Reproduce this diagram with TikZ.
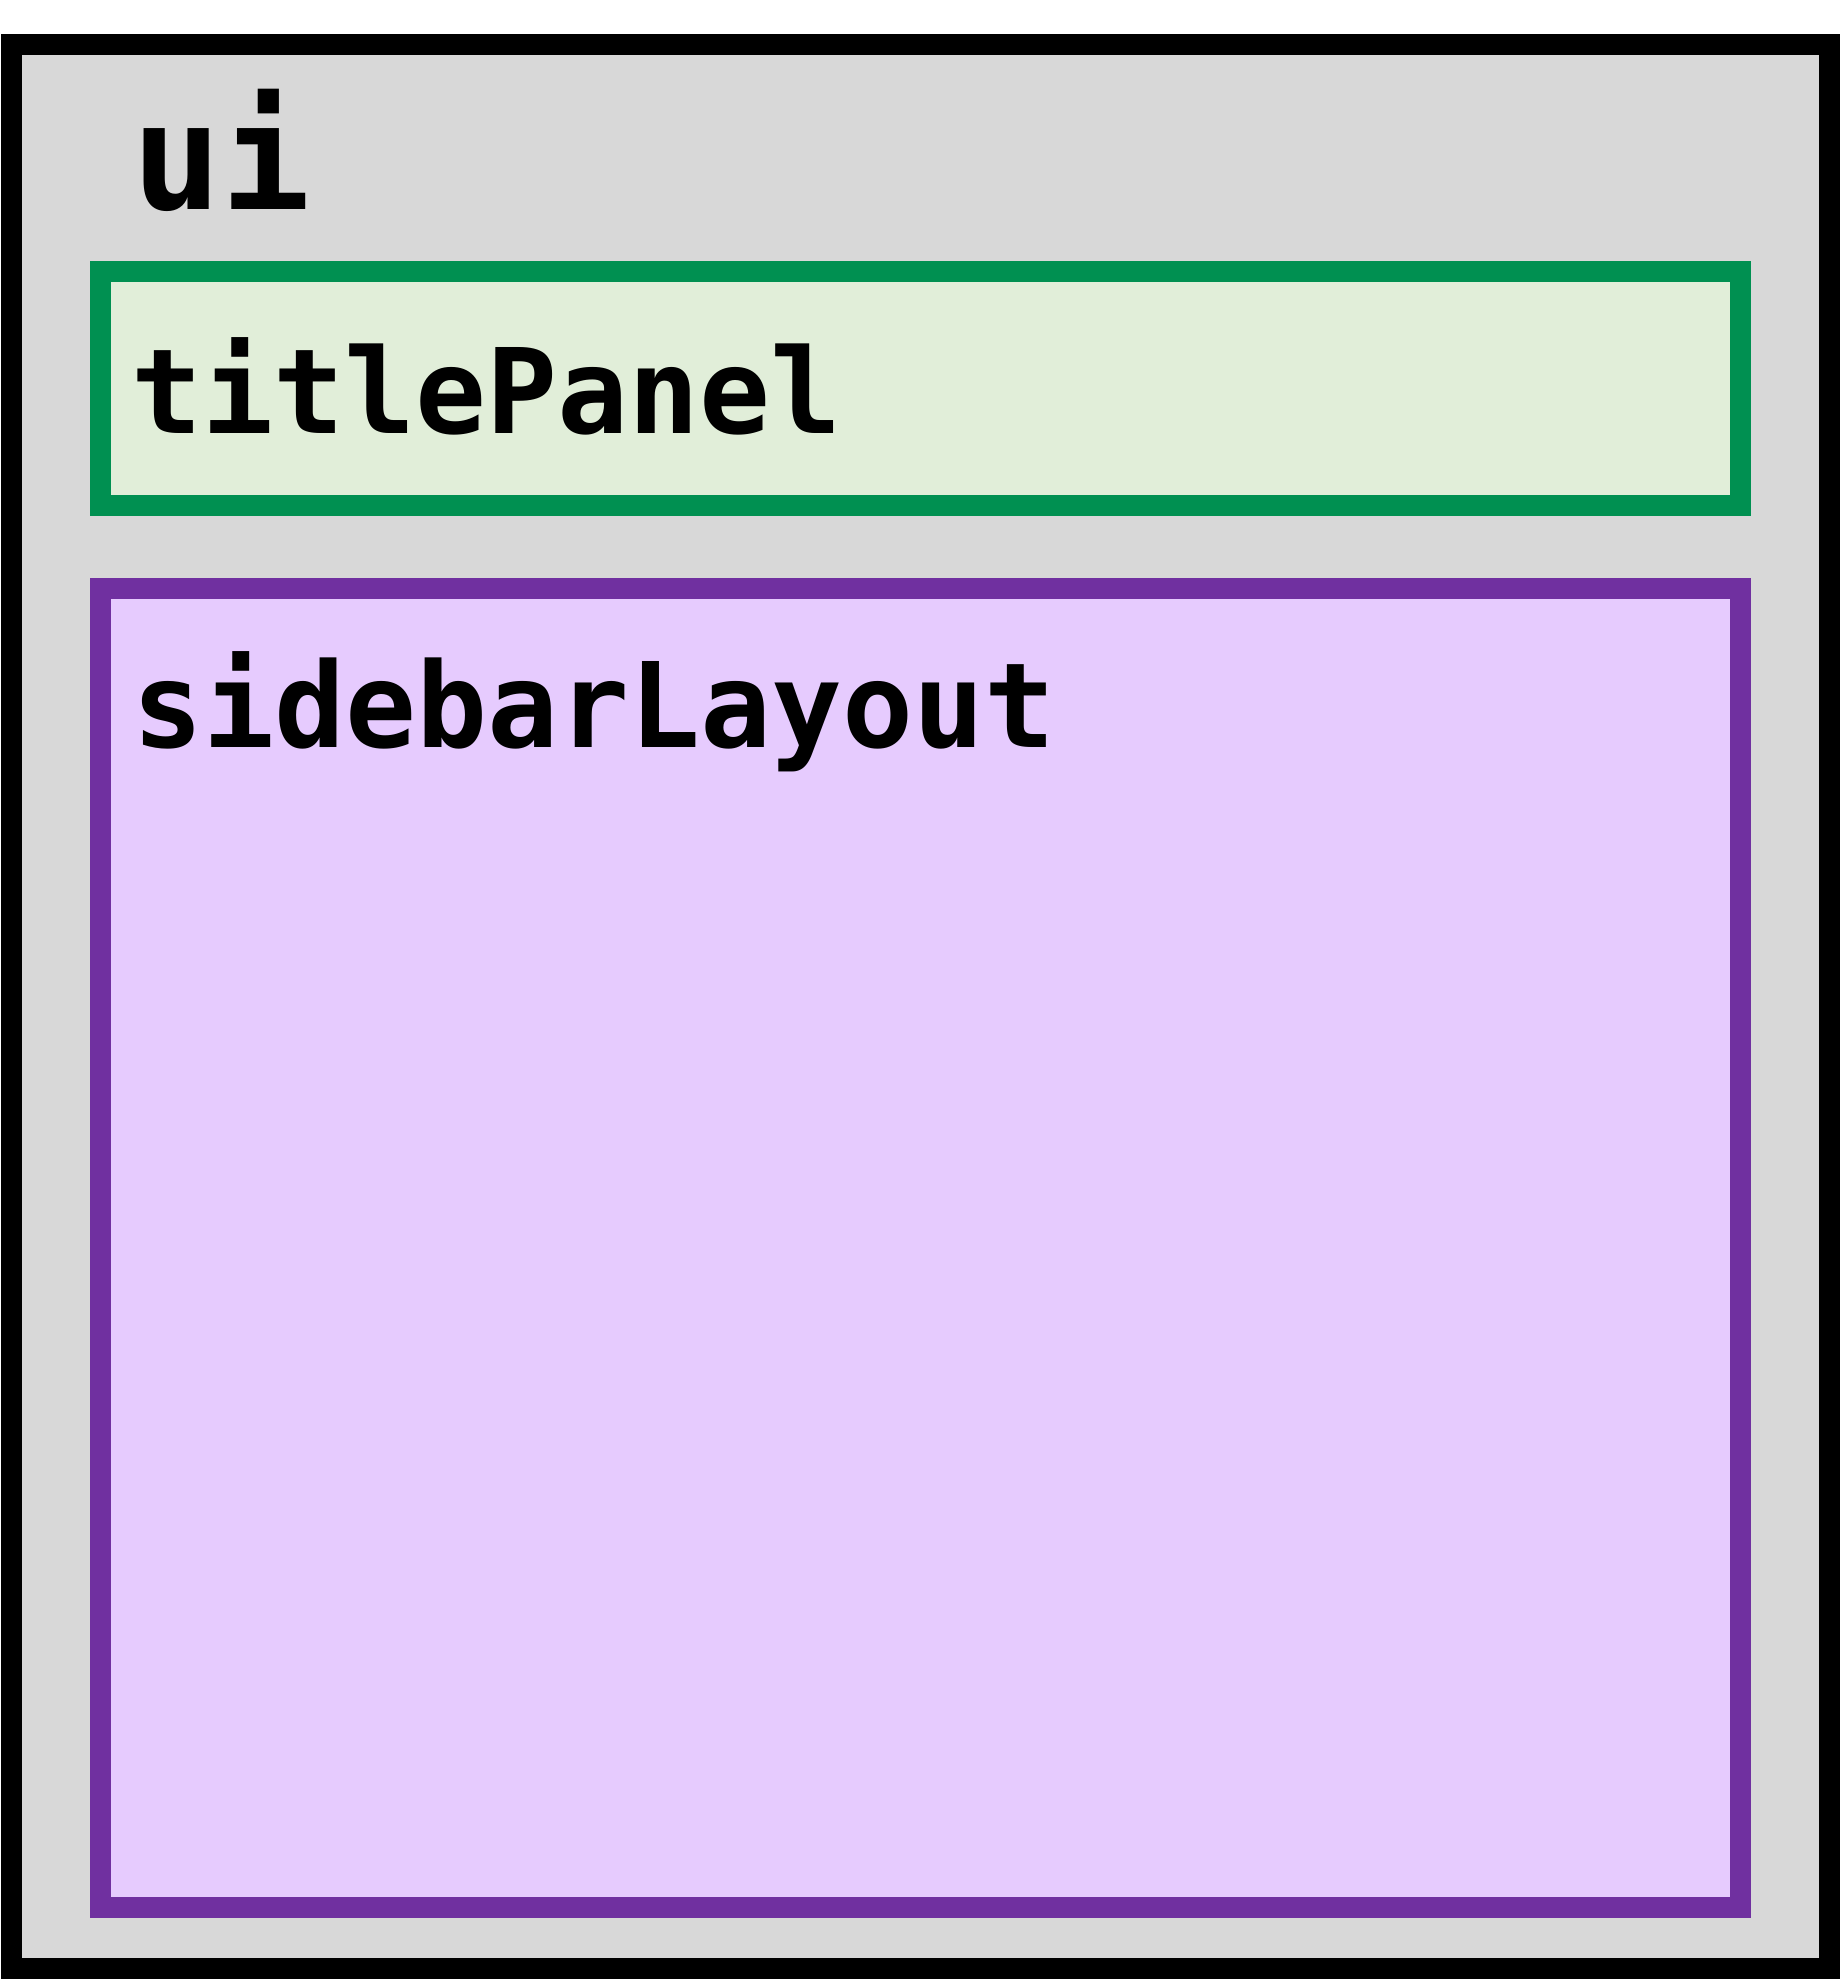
\documentclass[tikz,border=0pt]{standalone}
\usepackage{fontspec}
\usepackage{xcolor}
\newfontfamily\boxfont{DejaVu Sans Mono}
\definecolor{uigray}{HTML}{D8D8D8}
\definecolor{tpgreen}{HTML}{009051}
\definecolor{tpfill}{HTML}{E1EED9}
\definecolor{sbpurple}{HTML}{7030A0}
\definecolor{sbfill}{HTML}{E6CBFE}
\usetikzlibrary{positioning}

\begin{document}
\begin{tikzpicture}[x=0.5pt,y=-0.5pt,
 box/.style={draw,rectangle,inner sep=0pt,line width=10.5pt},
 lbl/.style={anchor=base west,inner sep=0pt,font=\boxfont\bfseries\fontsize{59pt}{59pt}\selectfont}]
\useasboundingbox (0,0) rectangle (1842,1980);
\node[box,fill=uigray,minimum width=909pt,minimum height=962pt](ui) at (920.5,1006.5){};
\node[box,draw=tpgreen,fill=tpfill,minimum width=820pt,minimum height=117pt](titlePanel) at (920.5,388.5){};
\node[box,draw=sbpurple,fill=sbfill,minimum width=820pt,minimum height=659.5pt](sidebarLayout) at (920.5,1248){};
\node[lbl,font=\boxfont\bfseries\fontsize{74pt}{74pt}\selectfont](uiLbl) at (132,209){ui};
\node[lbl](titlePanelLbl) at (131,433){titlePanel};
\node[lbl](sidebarLayoutLbl) at (132,747){sidebarLayout};
\end{tikzpicture}
\end{document}
